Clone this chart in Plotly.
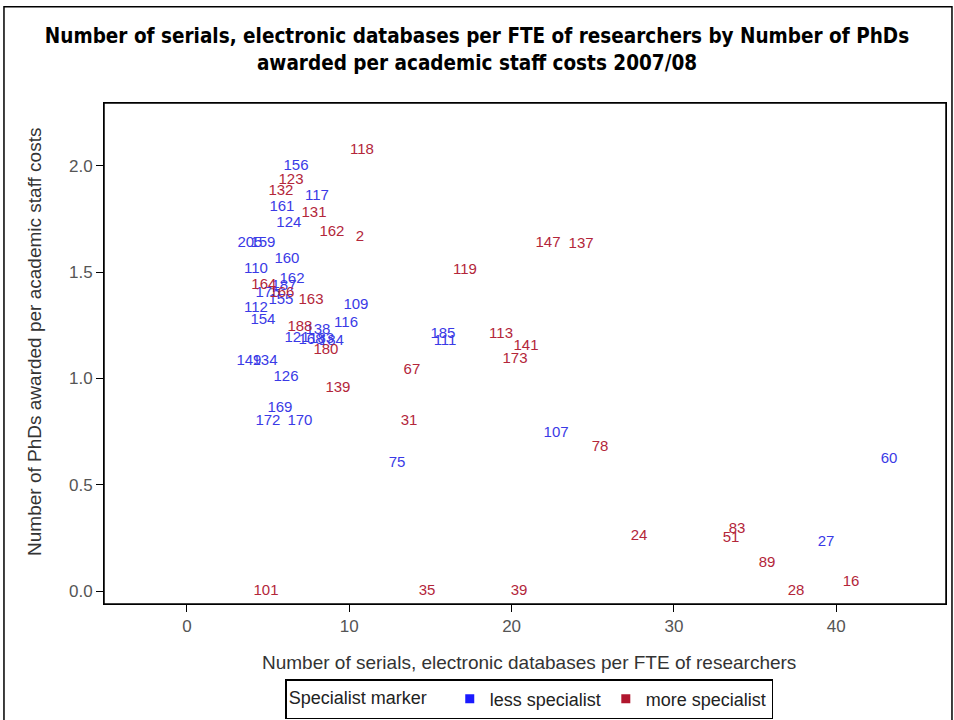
import plotly.graph_objects as go

# less specialist (blue)
less_labels = ["156", "117", "161", "124", "205", "159", "160", "110", "162", "187",
               "175", "155", "112", "154", "109", "116", "138", "121", "168", "183",
               "184", "185", "111", "149", "134", "126", "169", "172", "170", "75",
               "107", "60", "27"]
less_x = [6.72, 8.01, 5.85, 6.28, 3.88, 4.68, 6.16, 4.25, 6.47, 5.98,
          4.99, 5.79, 4.25, 4.68, 10.41, 9.80, 8.07, 6.78, 7.64, 8.30,
          8.90, 15.77, 15.90, 3.82, 4.81, 6.10, 5.73, 4.99, 6.96, 12.94,
          22.74, 43.25, 39.37]
less_y = [2.000, 1.859, 1.807, 1.732, 1.638, 1.638, 1.562, 1.515, 1.468, 1.435,
          1.402, 1.369, 1.332, 1.275, 1.346, 1.261, 1.228, 1.190, 1.181, 1.184,
          1.176, 1.209, 1.176, 1.082, 1.082, 1.007, 0.861, 0.800, 0.800, 0.602,
          0.744, 0.621, 0.231]

# more specialist (red)
more_labels = ["118", "123", "132", "131", "162", "2", "147", "137", "119", "164",
               "166", "163", "188", "180", "67", "139", "113", "141", "173", "31",
               "78", "24", "83", "51", "89", "28", "16", "101", "35", "39"]
more_x = [10.78, 6.41, 5.79, 7.83, 8.93, 10.66, 22.24, 24.28, 17.13, 4.74,
          5.85, 7.64, 6.96, 8.56, 13.86, 9.30, 19.35, 20.89, 20.21, 13.68,
          25.45, 27.85, 33.89, 33.52, 35.74, 37.52, 40.91, 4.87, 14.79, 20.46]
more_y = [2.075, 1.934, 1.882, 1.779, 1.689, 1.666, 1.638, 1.633, 1.511, 1.440,
          1.400, 1.369, 1.242, 1.134, 1.040, 0.955, 1.209, 1.153, 1.092, 0.800,
          0.678, 0.259, 0.292, 0.249, 0.132, 0.000, 0.042, 0.000, 0.000, 0.000]

BLUE_TXT = "#3a3ae6"
RED_TXT = "#b3263a"
BLUE = "#1a1aff"
RED = "#b0162e"
FONT = "Liberation Sans, Arial, sans-serif"

fig = go.Figure()
fig.add_trace(go.Scatter(x=less_x, y=less_y, text=less_labels, mode="text",
                         textposition="middle center",
                         textfont=dict(family=FONT, size=15, color=BLUE_TXT),
                         showlegend=False, hoverinfo="skip"))
fig.add_trace(go.Scatter(x=more_x, y=more_y, text=more_labels, mode="text",
                         textposition="middle center",
                         textfont=dict(family=FONT, size=15, color=RED_TXT),
                         showlegend=False, hoverinfo="skip"))
fig.add_trace(go.Scatter(x=[None], y=[None], mode="markers", name="less specialist",
                         marker=dict(symbol="square", size=9, color=BLUE)))
fig.add_trace(go.Scatter(x=[None], y=[None], mode="markers", name="more specialist",
                         marker=dict(symbol="square", size=9, color=RED)))

axis_common = dict(showgrid=False, zeroline=False, showline=True, linecolor="black",
                   linewidth=1, mirror=True, ticks="outside", ticklen=7,
                   tickcolor="black", automargin=False,
                   tickfont=dict(family=FONT, size=17, color="#555555"))

fig.update_layout(
    width=954, height=720,
    paper_bgcolor="white", plot_bgcolor="white",
    margin=dict(l=104, r=8, t=103, b=116, autoexpand=False),
    title=dict(text="<b>Number of serials, electronic databases per FTE of researchers by Number of PhDs<br>awarded per academic staff costs 2007/08</b>",
               x=0.5, xanchor="center", y=0.94, yanchor="top",
               font=dict(family="DejaVu Sans Condensed, Liberation Sans, sans-serif", size=20.5, color="black")),
    xaxis=dict(range=[-5.11, 46.76], tickvals=[0, 10, 20, 30, 40], **axis_common),
    yaxis=dict(range=[-0.061, 2.296], tickvals=[0, 0.5, 1.0, 1.5, 2.0], tickformat=".1f",
               **axis_common),
    legend=dict(orientation="h", x=0.505, xanchor="center", y=-0.150, yanchor="top",
                bordercolor="black", borderwidth=1.5, tracegroupgap=0,
                title=dict(text="Specialist marker   ", font=dict(family=FONT, size=18, color="#222222")),
                font=dict(family=FONT, size=18, color="#222222")),
    annotations=[
        dict(text="Number of serials, electronic databases per FTE of researchers",
             xref="paper", yref="paper", x=0.505, y=-0.1158, xanchor="center", yanchor="middle",
             showarrow=False, font=dict(family=FONT, size=19, color="#333333")),
        dict(text="Number of PhDs awarded per academic staff costs",
             xref="paper", yref="paper", x=-0.082, y=0.523, xanchor="center", yanchor="middle",
             textangle=-90, showarrow=False, font=dict(family=FONT, size=19, color="#333333")),
    ],
    shapes=[dict(type="rect", xref="paper", yref="paper",
                 x0=-0.1188, x1=1.0071, y0=-0.25, y1=1.192,
                 line=dict(color="black", width=1.5), fillcolor="rgba(0,0,0,0)", layer="below"),
            dict(type="rect", xref="paper", yref="paper",
                 x0=0, x1=1, y0=0, y1=1,
                 line=dict(color="black", width=1.5), fillcolor="rgba(0,0,0,0)", layer="above")],
)

fig.write_html("out.html", config={"displayModeBar": False},
               post_script="document.body.style.margin='0px';")
